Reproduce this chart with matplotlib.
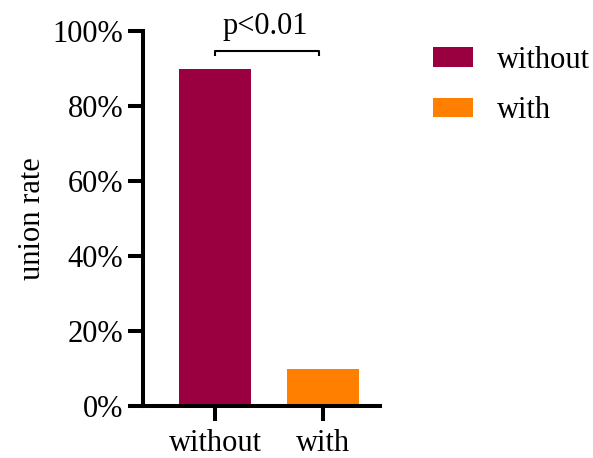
import matplotlib
matplotlib.use('Agg')
import matplotlib.pyplot as plt
from matplotlib.patches import Patch

plt.rcParams['font.family'] = ['Liberation Serif', 'DejaVu Serif']

groups = ['without', 'with']
rates = [90, 10]
colors = ['#9A003F', '#FF7F00']
yticks = [0, 20, 40, 60, 80, 100]
ytick_labels = ['0%', '20%', '40%', '60%', '80%', '100%']
p_text = 'p<0.01'

fig = plt.figure(figsize=(5.93, 4.58), dpi=100)
ax = fig.add_axes([0.241, 0.1135, 0.400, 0.8185])

x = list(range(len(groups)))
ax.bar(x, rates, width=0.664, color=colors, edgecolor='none')

ax.set_xlim(-0.668, 1.53)
ax.set_ylim(0, 100)
ax.set_xticks(x)
ax.set_xticklabels(groups)
ax.set_yticks(yticks)
ax.set_yticklabels(ytick_labels)
ax.set_ylabel('union rate', fontsize=22, labelpad=4)

for side in ['top', 'right']:
    ax.spines[side].set_visible(False)
for side in ['left', 'bottom']:
    ax.spines[side].set_linewidth(2.9)
ax.tick_params(axis='both', width=2.9, length=11, labelsize=22, pad=3)
ax.tick_params(axis='x', pad=5.5)

# significance bracket
y0, y1 = 93.3, 94.7
ax.plot([0, 0, 0.967, 0.967], [y0, y1, y1, y0], color='black', lw=1.5,
        clip_on=False, solid_capstyle='butt')
ax.text(0.467, 99.2, p_text, ha='center', va='baseline', fontsize=22)

handles = [Patch(facecolor=c, edgecolor='none') for c in colors]
fig.legend(handles, groups, loc='upper left', bbox_to_anchor=(0.705, 0.934),
           frameon=False, fontsize=22, handlelength=1.3, handleheight=0.62,
           handletextpad=0.78, labelspacing=0.71, borderpad=0)

fig.savefig('out.png', dpi=100)
